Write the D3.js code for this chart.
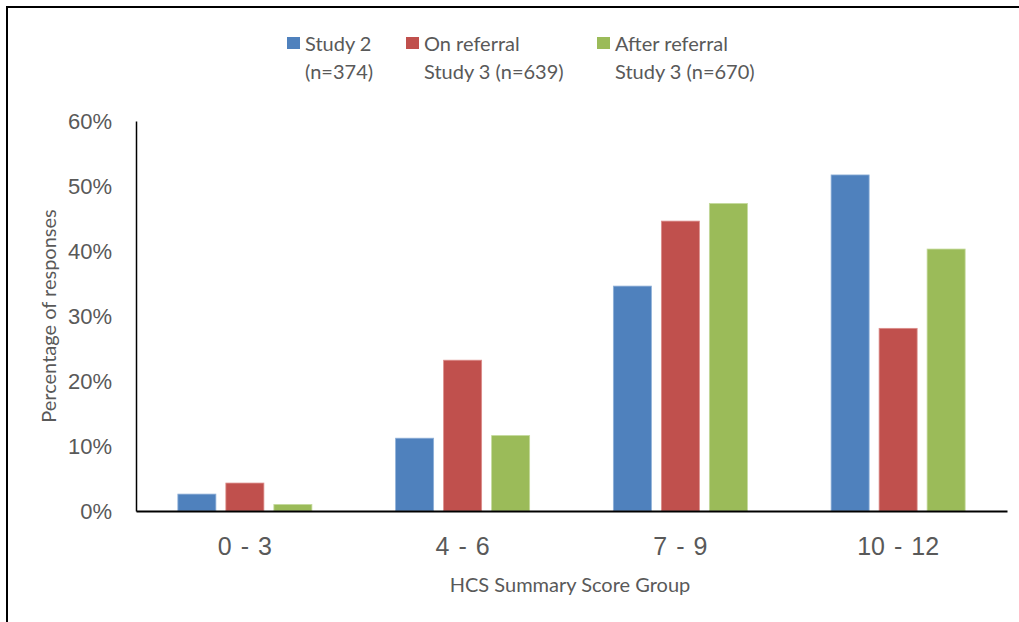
<!DOCTYPE html>
<html>
<head>
<meta charset="utf-8">
<script src="https://cdn.jsdelivr.net/npm/d3@7"></script>
<style>
  html, body { margin: 0; padding: 0; background: #fff; }
  svg { display: block; }
</style>
</head>
<body>
<svg id="chart" width="1019" height="622"></svg>
<script>
// HCS summary score distribution by study
const categories = ["0 - 3", "4 - 6", "7 - 9", "10 - 12"];
const seriesNames = [
  ["Study 2", "(n=374)"],
  ["On referral", "Study 3 (n=639)"],
  ["After referral", "Study 3 (n=670)"]
];
const study2 = [2.6, 11.2, 34.6, 51.7];
const onReferral = [4.3, 23.2, 44.6, 28.1];
const afterReferral = [1.0, 11.6, 47.3, 40.3];
const yTicks = [0, 10, 20, 30, 40, 50, 60];
const colors = ["#4F81BD", "#C0504D", "#9BBB59"];
const edgeColors = ["#8fb0d8", "#dc8d8b", "#c3d99a"];

const series = [study2, onReferral, afterReferral];

const svg = d3.select("#chart");
const textColor = "#595959";
const labelFont = "Lato, 'Open Sans', sans-serif";
const tickFont = "'Liberation Sans', Arial, sans-serif";

const plot = { left: 136, right: 1007, top: 121, bottom: 511 };

const x = d3.scaleBand()
  .domain(categories)
  .range([plot.left, plot.right])
  .paddingInner(0)
  .paddingOuter(0);

const xInner = d3.scaleBand()
  .domain(d3.range(series.length))
  .range([0, x.bandwidth()])
  .paddingInner(0.208)
  .paddingOuter(0.872);

const y = d3.scaleLinear()
  .domain([0, 60])
  .range([plot.bottom, plot.top]);

// outer frame (left and top edges)
svg.append("path")
  .attr("d", `M7,622 L7,7 L1019,7`)
  .attr("fill", "none")
  .attr("stroke", "#000")
  .attr("stroke-width", 2);

// bars
series.forEach((vals, si) => {
  svg.append("g")
    .selectAll("rect")
    .data(vals)
    .join("rect")
    .attr("x", (d, i) => x(categories[i]) + xInner(si))
    .attr("width", xInner.bandwidth())
    .attr("y", d => y(d))
    .attr("height", d => y(0) - y(d))
    .attr("fill", colors[si])
    .attr("stroke", edgeColors[si])
    .attr("stroke-width", 0.8);
});

// y axis
const yAxis = svg.append("g")
  .attr("transform", `translate(${plot.left},0)`)
  .call(d3.axisLeft(y).tickValues(yTicks).tickSize(0).tickPadding(24).tickFormat(d => d + "%"));
yAxis.select(".domain").attr("stroke", "#000").attr("stroke-width", 1.5);
yAxis.selectAll("text")
  .attr("fill", textColor)
  .style("font-family", tickFont)
  .style("font-size", "22px");

// x axis
const xAxis = svg.append("g")
  .attr("transform", `translate(0,${plot.bottom})`)
  .call(d3.axisBottom(x).tickSize(0).tickPadding(26));
xAxis.select(".domain").attr("stroke", "#000").attr("stroke-width", 2);
xAxis.selectAll("text")
  .attr("fill", textColor)
  .style("font-family", tickFont)
  .style("font-size", "25px")
  .style("word-spacing", "2px");

// axis titles
svg.append("text")
  .attr("x", 570)
  .attr("y", 592)
  .attr("text-anchor", "middle")
  .attr("fill", textColor)
  .style("font-family", labelFont)
  .style("font-size", "20px")
  .text("HCS Summary Score Group");

svg.append("text")
  .attr("transform", "translate(56,316) rotate(-90)")
  .attr("text-anchor", "middle")
  .attr("fill", textColor)
  .style("font-family", labelFont)
  .style("font-size", "20px")
  .text("Percentage of responses");

// legend
const legendX = [287, 406, 597];
const legend = svg.append("g");
seriesNames.forEach((lines, si) => {
  const g = legend.append("g").attr("transform", `translate(${legendX[si]},0)`);
  g.append("rect")
    .attr("x", 0).attr("y", 37)
    .attr("width", 13).attr("height", 12)
    .attr("fill", colors[si]);
  lines.forEach((t, li) => {
    g.append("text")
      .attr("x", 18)
      .attr("y", 51 + li * 28)
      .attr("fill", textColor)
      .style("font-family", labelFont)
      .style("font-size", "20px")
      .text(t);
  });
});
</script>
</body>
</html>
